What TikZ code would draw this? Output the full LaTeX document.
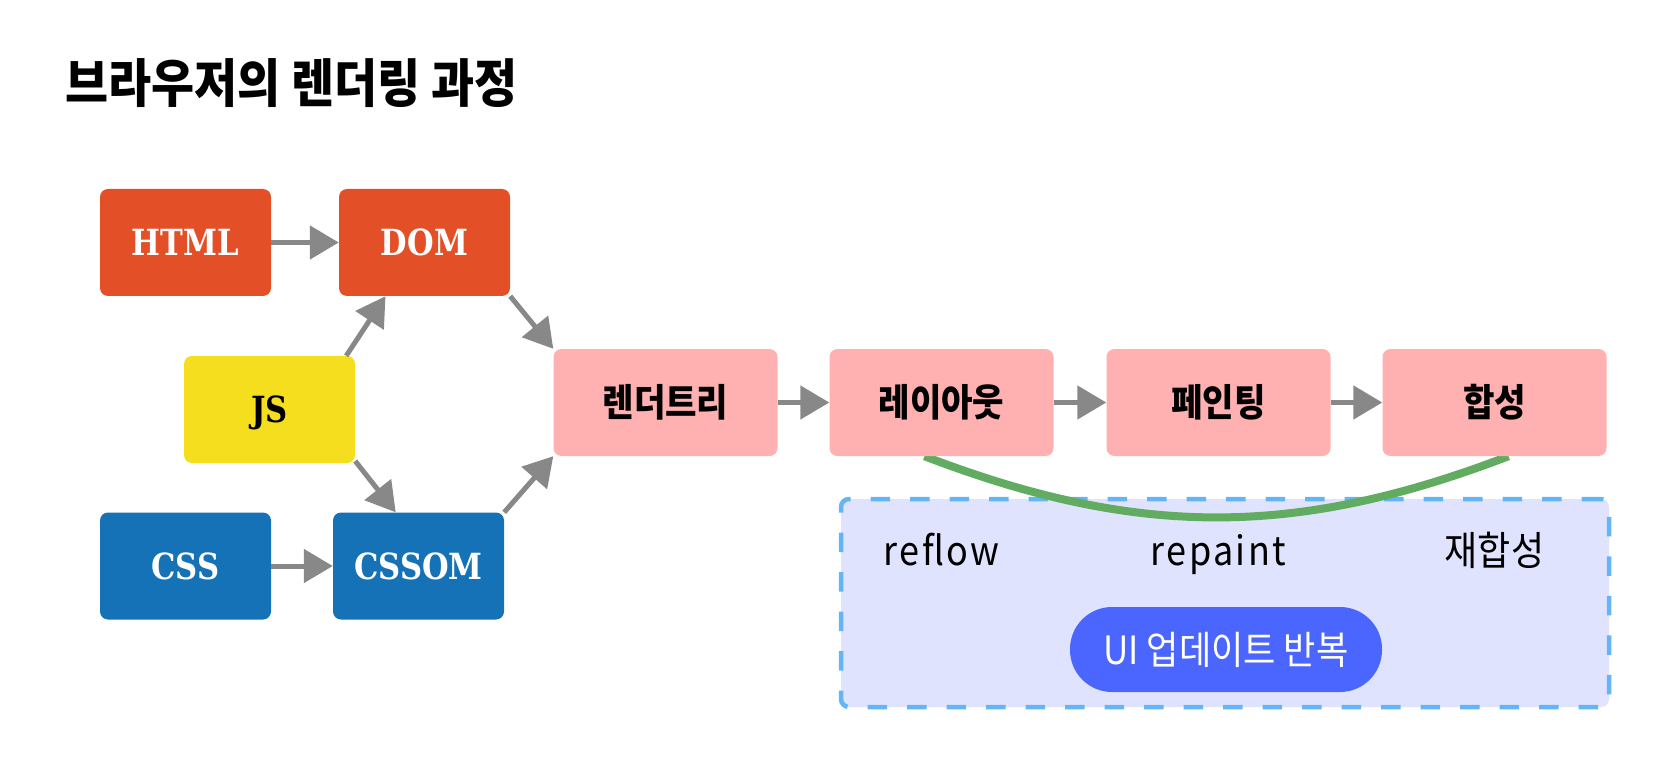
\documentclass[tikz,border=0pt]{standalone}
\usepackage{fontspec}
\usepackage{tikz}
\usetikzlibrary{arrows.meta, positioning, backgrounds}

\newfontfamily\krfont{Noto Sans CJK KR}[FakeStretch=0.9]
\newfontfamily\latinfont{Noto Sans CJK KR}[FakeStretch=0.9, LetterSpace=6]
\newfontfamily\labelfont{DejaVu Serif}[FakeStretch=0.85]

\definecolor{htmlred}{HTML}{E34F26}
\definecolor{cssblue}{HTML}{1572B6}
\definecolor{jsyellow}{HTML}{F5DE1E}
\definecolor{stagepink}{HTML}{FFB0B0}
\definecolor{flowgray}{HTML}{888888}
\definecolor{loopblue}{HTML}{64B5F6}
\definecolor{loopfill}{HTML}{E0E3FE}
\definecolor{pillblue}{HTML}{4A66FF}
\definecolor{loopgreen}{HTML}{62AC62}

\begin{document}
\begin{tikzpicture}[x=1pt, y=-1pt,
    box/.style={rectangle, rounded corners=8pt, minimum height=107pt, inner sep=0pt, align=center},
    srcbox/.style={box, minimum width=171pt, text=white, text depth=0pt, font=\labelfont\bfseries\fontsize{36pt}{40pt}\selectfont},
    stagebox/.style={box, fill=stagepink, minimum width=224pt, font=\krfont\bfseries\fontsize{38pt}{44pt}\selectfont},
    flow/.style={draw=flowgray, line width=5pt, -{Triangle[length=29pt, width=33pt]}},
    steptext/.style={anchor=base, font=\krfont\fontsize{40pt}{46pt}\selectfont},
    loopbox/.style={rectangle, rounded corners=8pt, draw=loopblue, fill=loopfill, line width=4.5pt, dash pattern=on 19.5pt off 20pt, minimum width=768pt, minimum height=208pt},
    pill/.style={rectangle, rounded corners=42pt, fill=pillblue, text=white, minimum width=312pt, minimum height=85pt, font=\krfont\fontsize{39pt}{44pt}\selectfont}
]
    \useasboundingbox (0,0) rectangle (1670,767);

    % Title
    \node[anchor=west, font=\krfont\bfseries\fontsize{52pt}{60pt}\selectfont] (title) at (62,83) {브라우저의 렌더링 과정};

    % Sources
    \node[srcbox, fill=htmlred] (html) at (185.5,242.5) {HTML};
    \node[srcbox, fill=htmlred] (dom) at (424.5,242.5) {DOM};
    \node[srcbox, fill=jsyellow, text=black] (js) at (269.5,409.5) {JS};
    \node[srcbox, fill=cssblue] (css) at (185.5,566) {CSS};
    \node[srcbox, fill=cssblue] (cssom) at (418.5,566) {CSSOM};

    % Stages
    \node[stagebox] (render) at (665.5,402.5) {렌더트리};
    \node[stagebox] (layout) at (941.5,402.5) {레이아웃};
    \node[stagebox] (paint) at (1218.5,402.5) {페인팅};
    \node[stagebox] (merge) at (1494.5,402.5) {합성};

    % Update loop
    \begin{scope}[on background layer]
        \node[loopbox] (loop) at (1225,603) {};
        \draw[loopgreen, line width=8pt] ([xshift=-17pt]layout.south) to[bend right=21] ([xshift=14pt]merge.south);
    \end{scope}
    \node[steptext, font=\latinfont\fontsize{40pt}{46pt}\selectfont] (reflow) at (941.5,565) {reflow};
    \node[steptext, font=\latinfont\fontsize{40pt}{46pt}\selectfont] (repaint) at (1218.5,565) {repaint};
    \node[steptext] (remerge) at (1494.5,565) {재합성};
    \node[pill] (update) at (1226,649.5) {UI 업데이트 반복};

    % Arrows
    \draw[flow] (html) -- (dom);
    \draw[flow] (css) -- (cssom);
    \draw[flow] (js.35) -- (dom.234);
    \draw[flow] (js.329) -- (cssom.113);
    \draw[flow] (dom.south east) -- (render.north west);
    \draw[flow] (cssom.north east) -- (render.south west);
    \draw[flow] (render) -- (layout);
    \draw[flow] (layout) -- (paint);
    \draw[flow] (paint) -- (merge);
\end{tikzpicture}
\end{document}
